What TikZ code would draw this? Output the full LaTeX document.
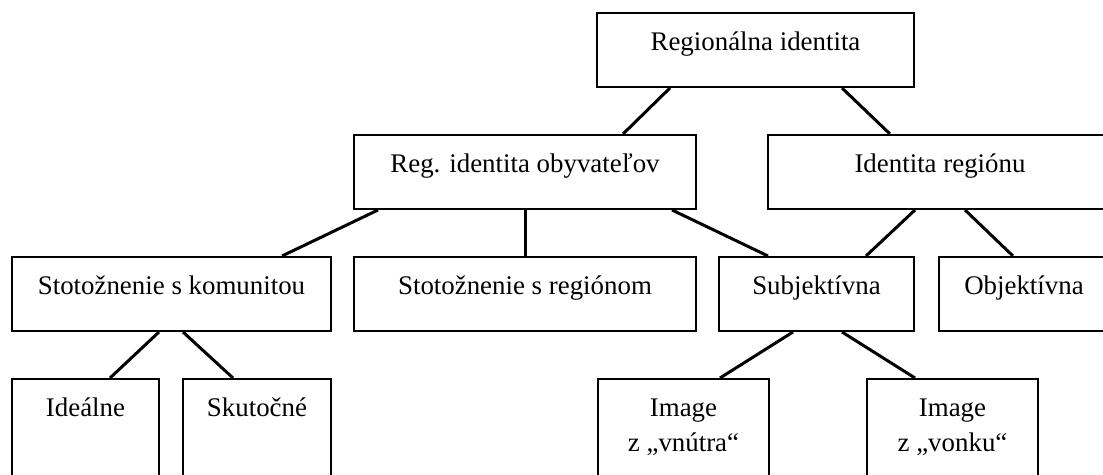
\documentclass[tikz,border=0pt]{standalone}
\usepackage{fontspec}
\setmainfont{Liberation Serif}
\usetikzlibrary{calc}

\begin{document}
\begin{tikzpicture}[-,x=0.02cm,y=-0.02cm,line width=0.06cm]
\tikzstyle{box}=[draw,line width=0.04cm,inner sep=0pt,text height=0.75cm,text depth=0.73cm,align=center,font=\fontsize{15.3}{19.9}\selectfont]
\tikzstyle{low}=[text depth=1.47cm]
\tikzstyle{twoline}=[text height=1.45cm,text depth=0.77cm]

\useasboundingbox (0,0) rectangle (1103,475);
\clip (0,0) rectangle (1103,475);

\node[box]     (ri)  at (755.5,50)  [minimum width=6.34cm] {Regionálna identita};
\node[box]     (rio) at (525,172)   [minimum width=6.84cm] {Reg. identita obyvateľov};
\node[box]     (ir)  at (940,172)   [minimum width=6.88cm] {Identita regiónu};
\node[box]     (sk)  at (171.5,294) [minimum width=6.38cm] {Stotožnenie s komunitou};
\node[box]     (sr)  at (525,294)   [minimum width=6.84cm] {Stotožnenie s regiónom};
\node[box]     (sub) at (816.5,294) [minimum width=3.9cm]  {Subjektívna};
\node[box]     (obj) at (1024,294)  [minimum width=3.4cm]  {Objektívna};
\node[box,low] (ide) at (85.5,434.5) [minimum width=2.94cm] {Ideálne};
\node[box,low] (sku) at (257,434.5) [minimum width=2.96cm] {Skutočné};
\node[box,twoline] (iv) at (683.5,434.5) [minimum width=3.42cm] {Image\\z „vnútra“};
\node[box,twoline] (io) at (952.5,434.5) [minimum width=3.42cm] {Image\\z „vonku“};

\path
($(ri.south)+(-85.5,0)$) edge ($(rio.north)+(98,0)$)
($(ri.south)+(86.5,0)$)  edge ($(ir.north)+(-50,0)$)
($(rio.south)+(-147,0)$) edge ($(sk.north)+(110.5,0)$)
(rio.south)              edge (sr.north)
($(rio.south)+(147,0)$)  edge ($(sub.north)+(-48.5,0)$)
($(ir.south)+(-25,0)$)   edge ($(sub.north)+(49.5,0)$)
($(ir.south)+(25,0)$)    edge ($(obj.north)+(-11,0)$)
($(sk.south)+(-12.5,0)$) edge ($(ide.north)+(24.5,0)$)
($(sk.south)+(11.5,0)$)  edge ($(sku.north)+(-24,0)$)
($(sub.south)+(-23.5,0)$) edge ($(iv.north)+(36.5,0)$)
($(sub.south)+(25.5,0)$) edge ($(io.north)+(-37.5,0)$)
;
\end{tikzpicture}
\end{document}
